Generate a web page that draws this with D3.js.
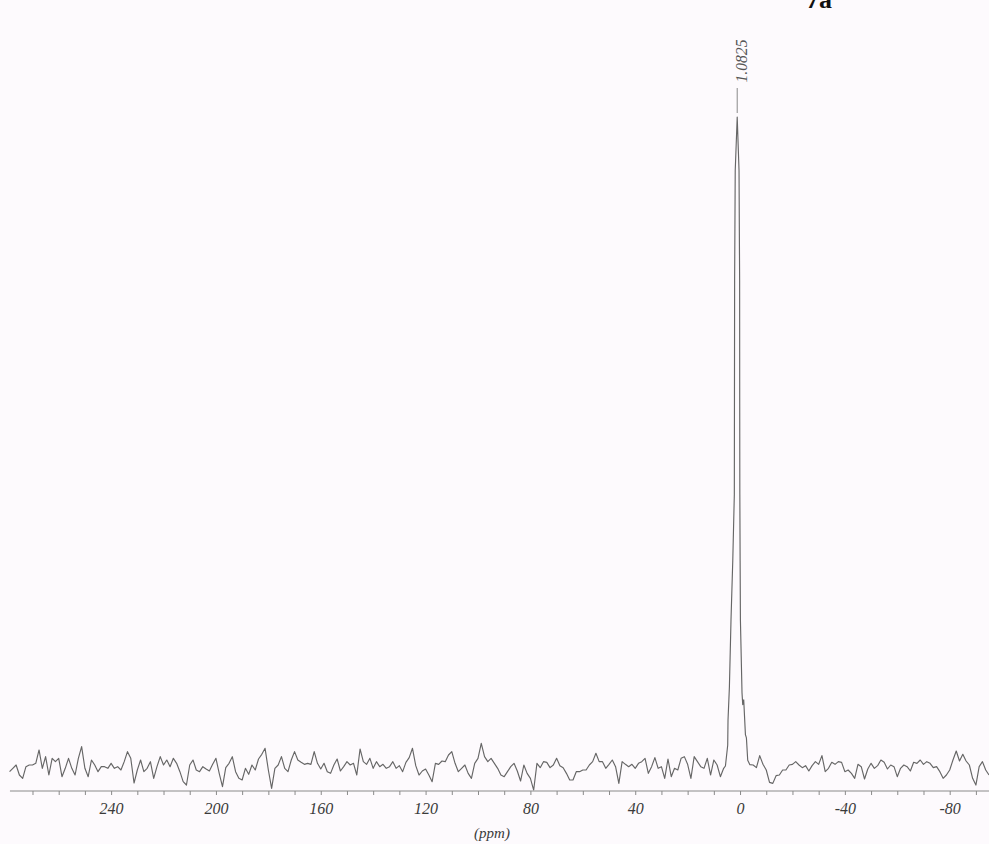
<!DOCTYPE html>
<html>
<head>
<meta charset="utf-8">
<script src="https://cdn.jsdelivr.net/npm/d3@7"></script>
<style>
  html, body { margin: 0; padding: 0; background: #fdfafd; }
  svg { display: block; }
</style>
</head>
<body>
<svg id="chart" width="989" height="844"></svg>
<script>
const startPpm = 278.75;
const stepPpm = 1.25;

// Baseline (noise) intensities, one per grid point; null where the resonance below takes over
const baseline = [
  -1.1, -0.1,  0.9, -2.1, -3.1,  0.4,  0.9,  0.9,  1.4,  5.4,
  -0.1,  3.4, -2.1,  2.9,  1.9,  2.9, -2.6, -0.1,  2.9, -0.1,
  -2.1,  2.9,  6.4, -0.1, -2.6,  2.4,  0.9, -1.1,  0.4,  0.4,
  -0.1,  1.4, -0.1,  0.4, -0.6,  1.9,  4.9,  2.9, -4.5, -0.6,
   2.4, -1.1, -0.1,  1.9, -3.1,  0.4,  3.4,  0.9,  2.4,  0.4,
   2.9,  1.4, -1.1, -4.1, -5.1,  0.9,  2.4, -0.6, -1.1,  0.4,
  -0.3, -0.9,  1.1,  2.9, -1.6, -5.6,  0.1,  1.4,  3.4, -1.1,
  -3.1, -3.6, -0.1, -1.9,  0.9, -0.6,  2.7,  4.1,  5.9, -0.6,
  -6.1, -0.1,  0.9,  3.4, -0.1, -1.1,  2.4,  4.9,  2.4,  1.7,
   1.1,  1.4,  1.1,  4.9,  1.4, -0.3,  1.4, -1.1, -1.6,  0.9,
   2.7, -0.9,  0.4,  1.9,  0.9,  1.4, -2.1,  5.7,  1.9,  1.1,
   2.9, -0.1,  1.9,  0.4,  1.1, -0.1,  0.4,  1.9, -0.1,  0.7,
  -1.1,  1.7,  3.1,  5.9,  0.7, -2.1, -0.9, -0.3, -2.1, -4.1,
   1.4,  1.1,  2.1,  1.9,  3.9,  4.9,  1.4, -1.1, -0.1,  0.9,
  -1.6, -3.1,  1.4,  2.9,  7.4,  3.4,  1.9,  2.9,  1.4, -0.1,
  -2.1, -2.6, -1.1,  0.4,  1.4, -0.9, -3.9,  0.9, -1.6, -3.1,
  -6.6,  1.4,  0.1,  1.9,  1.7,  0.1,  0.9,  2.9,  0.7,  0.1,
  -1.6, -3.6, -3.6, -1.1, -1.1, -0.6, -0.6,  0.9,  1.9,  4.4,
   1.9,  1.9, -0.1,  1.1,  2.4,  0.4, -4.6,  1.9,  1.1,  0.4,
   1.1, -0.1,  1.4,  1.9,  2.9, -1.6,  0.4,  3.1, -0.1,  0.4,
  -3.1,  2.7, -2.6, -0.1, -0.6,  2.9,  3.4,  1.1, -3.1,  3.4,
   1.9,  0.4, -0.1,  2.9, -2.1,  2.4,  0.9, -2.6, -0.1, null,
  null, null, null, null, null, null,  1.0,  0.9,  0.1,  3.7,
   1.1, -0.6, -4.3, -4.6, -2.3, -2.1, -0.6, -0.6,  0.9,  1.1,
   1.9,  0.9,  0.1,  0.7, -0.9,  0.7,  1.9,  1.1,  3.7, -1.1,
  -0.1,  1.7,  1.1,  1.9,  1.7, -1.1, -0.6, -1.6, -3.1,  1.1,
   0.4, -3.3, -0.3,  1.4, -0.1,  0.7,  2.4,  1.7, -0.3,  0.9,
   0.4, -2.6, -0.1,  0.9,  0.4, -0.9,  1.7,  1.4,  2.4,  1.1,
   1.9,  1.4,  0.1,  0.4, -1.1, -3.1, -2.1, -0.6,  2.4,  5.1,
   2.1,  4.1,  2.1,  0.9, -3.1, -5.1,  0.4,  1.9, -0.6, -2.1
];

// Resonance at 1.0825 ppm, finely sampled
const peakPpm = [5.58, 4.71, 4.59, 4.06, 3.45, 2.78, 2.18, 2.13, 2.07, 1.84, 1.0825,
                 0.39, 0.16, 0.13, 0.08, -0.03, -0.14, -0.75, -1.02, -1.40, -2.05, -2.43, -2.93];
const peakIntensity = [0.6, 6.8, 14.4, 24.3, 44.3, 62, 82, 111, 146, 179, 195,
                       179, 146, 111, 82, 62, 44.3, 22.5, 19, 20.4, 10, 9, 2.3];

const peakLabel = "1.0825";
const peakLabelPpm = 1.0825;
const compoundLabel = "7a";
const axisTitle = "(ppm)";

// Axis ticks
const minorTicks = [270, 260, 250, 240, 230, 220, 210, 200, 190, 180, 170, 160, 150, 140, 130, 120,
                    110, 100, 90, 80, 70, 60, 50, 40, 30, 20, 10, 0, -10, -20, -30, -40, -50, -60,
                    -70, -80, -90];
const labelTicks = [240, 200, 160, 120, 80, 40, 0, -40, -80];

const svg = d3.select("#chart");
const W = 989, H = 844;
const serif = "'Liberation Serif', 'Times New Roman', serif";

svg.append("rect").attr("width", W).attr("height", H).attr("fill", "#fdfafd");

const x = d3.scaleLinear().domain([282.4, -95]).range([0, W]);
const y = d3.scaleLinear().domain([0, 195]).range([768, 117]);

// Merge noise grid and peak samples into one trace
const points = baseline
  .map((v, i) => ({ ppm: startPpm - i * stepPpm, v }))
  .filter(d => d.v !== null)
  .concat(peakPpm.map((p, i) => ({ ppm: p, v: peakIntensity[i] })))
  .sort((a, b) => b.ppm - a.ppm);

const line = d3.line().x(d => x(d.ppm)).y(d => y(d.v));

svg.append("path")
  .datum(points)
  .attr("d", line)
  .attr("fill", "none")
  .attr("stroke", "#666")
  .attr("stroke-width", 1.15)
  .attr("stroke-linejoin", "round");

// ppm axis
const axisY = 791;
svg.append("line")
  .attr("x1", x(278.6)).attr("x2", W)
  .attr("y1", axisY).attr("y2", axisY)
  .attr("stroke", "#8a8a8a").attr("stroke-width", 1);

const axis = d3.axisBottom(x)
  .tickValues(minorTicks)
  .tickSize(4)
  .tickPadding(7.5)
  .tickFormat(d => labelTicks.includes(d) ? String(d) : "");

const gAxis = svg.append("g")
  .attr("transform", `translate(0,${axisY})`)
  .call(axis);
gAxis.select(".domain").remove();
gAxis.selectAll(".tick line").attr("stroke", "#8a8a8a");
gAxis.selectAll(".tick text")
  .attr("fill", "#3a3a3a")
  .style("font-family", serif)
  .style("font-style", "italic")
  .style("font-size", "16px");

svg.append("text")
  .attr("x", 492).attr("y", 838)
  .attr("text-anchor", "middle")
  .attr("fill", "#3a3a3a")
  .style("font-family", serif)
  .style("font-style", "italic")
  .style("font-size", "15px")
  .text(axisTitle);

// Peak annotation: leader line and rotated shift value
const px = x(peakLabelPpm);
svg.append("line")
  .attr("x1", px).attr("x2", px)
  .attr("y1", 88).attr("y2", 113)
  .attr("stroke", "#8a8a8a").attr("stroke-width", 1);

svg.append("text")
  .attr("transform", `translate(${px + 10},61) rotate(-90)`)
  .attr("text-anchor", "middle")
  .attr("fill", "#555")
  .attr("textLength", 43)
  .attr("lengthAdjust", "spacingAndGlyphs")
  .style("font-family", serif)
  .style("font-style", "italic")
  .style("font-size", "17px")
  .text(peakLabel);

// Compound label at top edge
svg.append("text")
  .attr("x", 806).attr("y", 8)
  .attr("fill", "#111")
  .style("font-family", serif)
  .style("font-weight", "bold")
  .style("font-size", "26px")
  .text(compoundLabel);
</script>
</body>
</html>
